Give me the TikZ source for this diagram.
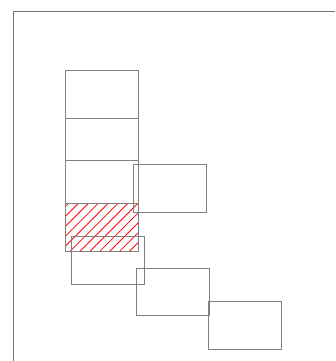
\documentclass[tikz,border=0pt]{standalone}
\usetikzlibrary{patterns.meta}
\begin{document}
\begin{tikzpicture}[x=1pt,y=-1pt,
  box/.style={draw=black!50,line width=1pt},
  frame/.style={draw=black!55,line width=1pt},
  hatch/.style={pattern={Lines[angle=45,distance=7pt,line width=0.8pt]},pattern color=red}]
\useasboundingbox (0,0) rectangle (335,361);
\draw[frame] (335,12) -- (13,12) -- (13,361);
\fill[hatch] (65,203.3) rectangle (138.3,251);
\draw[box] (65,70.7) rectangle (138.3,118.7);
\draw[box] (65,118.7) rectangle (138.3,160.7);
\draw[box] (65,160.7) rectangle (138.3,203.3);
\draw[box] (65,203.3) rectangle (138.3,251);
\draw[box] (133.3,164.3) rectangle (206.7,212);
\draw[box] (71.7,236.7) rectangle (144.7,284.3);
\draw[box] (136,268) rectangle (209.3,315.7);
\draw[box] (208,301.7) rectangle (281.3,349.3);
\end{tikzpicture}
\end{document}
